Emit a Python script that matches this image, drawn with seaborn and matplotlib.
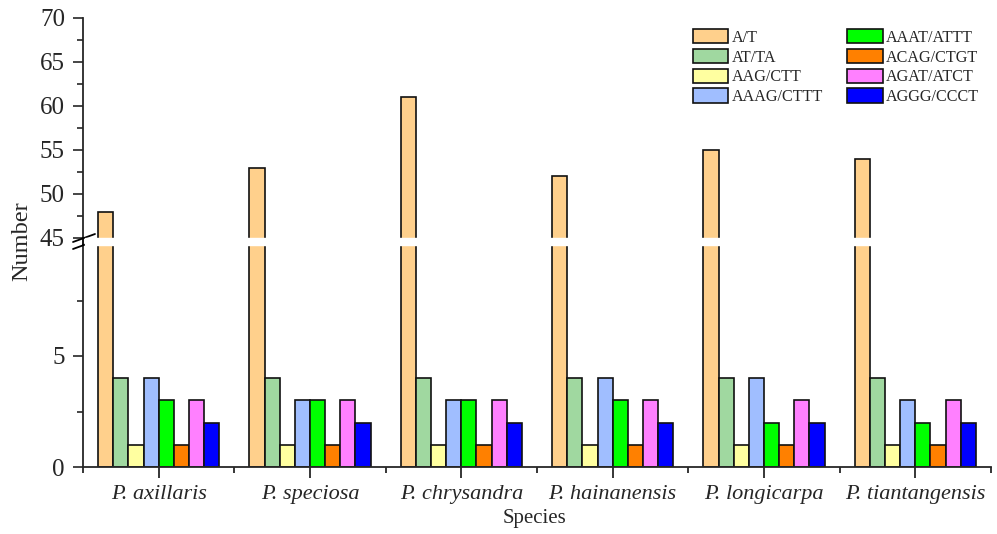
import pandas as pd
import matplotlib
matplotlib.use('Agg')
import matplotlib.pyplot as plt
from matplotlib.lines import Line2D
from matplotlib.ticker import MultipleLocator, FixedLocator
import seaborn as sns

species = ['P. axillaris', 'P. speciosa', 'P. chrysandra',
           'P. hainanensis', 'P. longicarpa', 'P. tiantangensis']
motifs = ['A/T', 'AT/TA', 'AAG/CTT', 'AAAG/CTTT',
          'AAAT/ATTT', 'ACAG/CTGT', 'AGAT/ATCT', 'AGGG/CCCT']
colors = ['#FFD08C', '#A0D8A0', '#FFFFA0', '#A0BEFF',
          '#00FF00', '#FF8000', '#FF80FF', '#0000FF']

a_t = [48, 53, 61, 52, 55, 54]
at_ta = [4, 4, 4, 4, 4, 4]
aag_ctt = [1, 1, 1, 1, 1, 1]
aaag_cttt = [4, 3, 3, 4, 4, 3]
aaat_attt = [3, 3, 3, 3, 2, 2]
acag_ctgt = [1, 1, 1, 1, 1, 1]
agat_atct = [3, 3, 3, 3, 3, 3]
aggg_ccct = [2, 2, 2, 2, 2, 2]

counts = [a_t, at_ta, aag_ctt, aaag_cttt, aaat_attt, acag_ctgt,
          agat_atct, aggg_ccct]

# long table for seaborn
rows = []
for motif, vals in zip(motifs, counts):
    for sp, v in zip(species, vals):
        rows.append({'species': sp, 'motif': motif, 'count': v})
df = pd.DataFrame(rows)

sns.set_style('ticks')
plt.rcParams['font.family'] = ['Liberation Serif', 'DejaVu Serif']

W, H = 997, 534
fig = plt.figure(figsize=(W / 100, H / 100), dpi=100)

left, right = 83 / W, 991 / W
ax_lo = fig.add_axes([left, 1 - 467 / H, right - left, (467 - 245) / H])
ax_hi = fig.add_axes([left, 1 - 238 / H, right - left, (238 - 18) / H])

for ax in (ax_lo, ax_hi):
    sns.barplot(data=df, x='species', y='count', hue='motif',
                hue_order=motifs, order=species, palette=colors,
                saturation=1, width=0.8, edgecolor='#111111', linewidth=1.2,
                ax=ax)
    ax.set_xlim(-0.5, 5.5)
    ax.set_xlabel('')
    ax.set_ylabel('')
    for s in ('top', 'right'):
        ax.spines[s].set_visible(False)
    ax.spines['left'].set_linewidth(1.3)
    ax.spines['bottom'].set_linewidth(1.3)
    ax.tick_params(axis='y', which='major', direction='out', length=7,
                   width=1.2, labelsize=18, pad=6)
    ax.tick_params(axis='y', which='minor', direction='out', length=4,
                   width=1.2)

handles, labels = ax_hi.get_legend_handles_labels()
for ax in (ax_lo, ax_hi):
    if ax.get_legend() is not None:
        ax.get_legend().remove()

# lower part of the broken axis
ax_lo.set_ylim(0, 10)
ax_lo.yaxis.set_major_locator(FixedLocator([0, 5]))
ax_lo.yaxis.set_minor_locator(FixedLocator([2.5, 7.5]))
ax_lo.xaxis.set_minor_locator(FixedLocator([-0.5, 0.5, 1.5, 2.5, 3.5, 4.5, 5.5]))
ax_lo.tick_params(axis='x', which='major', direction='out', length=8,
                  width=1.3, labelsize=16, pad=5)
ax_lo.tick_params(axis='x', which='minor', direction='out', length=4,
                  width=1.3)
for t in ax_lo.get_xticklabels():
    t.set_fontstyle('italic')

# upper part of the broken axis
ax_hi.set_ylim(45, 70)
ax_hi.yaxis.set_major_locator(MultipleLocator(5))
ax_hi.yaxis.set_minor_locator(MultipleLocator(2.5))
ax_hi.spines['bottom'].set_visible(False)
ax_hi.tick_params(axis='x', which='both', bottom=False, labelbottom=False)

# join the spine across the gap and draw break marks
x0 = 83 / W
fig.add_artist(Line2D([x0, x0], [1 - 238 / H, 1 - 245 / H], color='black',
                      lw=1.3, transform=fig.transFigure))
for yc in (238, 245):
    fig.add_artist(Line2D([73 / W, 95 / W],
                          [1 - (yc + 4) / H, 1 - (yc - 4) / H],
                          color='black', lw=1.3, transform=fig.transFigure))
# white gap over the bars
fig.add_artist(plt.Rectangle((x0 + 2 / W, 1 - 245 / H), right - x0,
                             7 / H, color='white', transform=fig.transFigure,
                             zorder=5))

fig.legend(handles, labels, ncol=2, loc='upper left',
           bbox_to_anchor=(693 / W, 1 - 29 / H), frameon=False,
           fontsize=11.6, handlelength=2.2, handleheight=1.0,
           labelspacing=0.19, handletextpad=0.2, columnspacing=1.5,
           borderpad=0, borderaxespad=0)

fig.text(22 / W, 1 - 241 / H, 'Number', rotation=90, ha='center',
         va='center', fontsize=17.5)
fig.text(535 / W, 1 - 519 / H, 'Species', ha='center', va='center',
         fontsize=15)

fig.savefig('out.png', dpi=100)
